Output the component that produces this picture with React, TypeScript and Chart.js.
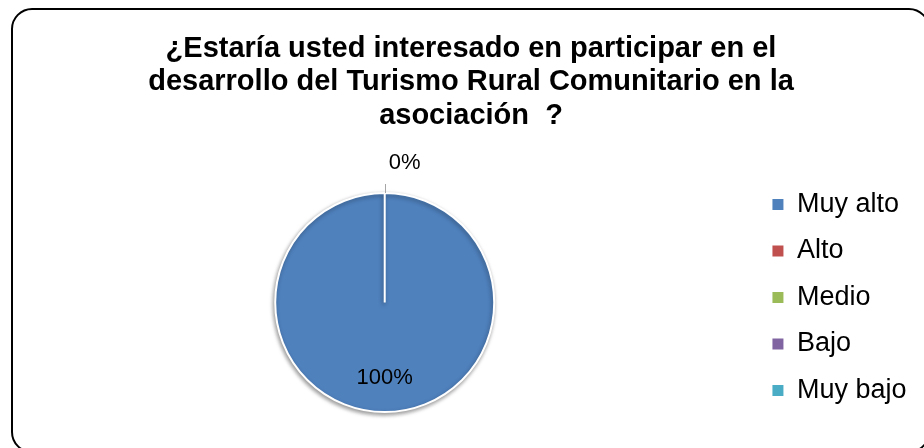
import { useEffect, useRef } from "react";
import { Chart, registerables, layouts } from "chart.js";

Chart.register(...registerables);

const TITLE_LINES = [
  "¿Estaría usted interesado en participar en el",
  "desarrollo del Turismo Rural Comunitario en la",
  "asociación  ?",
];
const CATEGORIES = ["Muy alto", "Alto", "Medio", "Bajo", "Muy bajo"];
const PERCENTS = [100, 0, 0, 0, 0];
const COLORS = ["#4F81BD", "#C0504D", "#9BBB59", "#8064A2", "#4BACC6"];

const FONT = "'Liberation Sans', Arial, Helvetica, sans-serif";

const shadowPlugin = {
  id: "pieShadow",
  beforeDatasetsDraw(chart: any) {
    const ctx = chart.ctx;
    ctx.save();
    ctx.shadowColor = "rgba(0,0,0,0.4)";
    ctx.shadowBlur = 4;
    ctx.shadowOffsetX = -1;
    ctx.shadowOffsetY = 2;
  },
  afterDatasetsDraw(chart: any) {
    chart.ctx.restore();
  },
};

const spacerPlugin = {
  id: "rightSpacer",
  beforeInit(chart: any) {
    const box: any = {
      position: "right",
      weight: 3000,
      fullSize: false,
      options: { stackWeight: 1 },
      width: 0,
      height: 0,
      left: 0,
      top: 0,
      right: 0,
      bottom: 0,
      isHorizontal: () => false,
      update(_w: number, h: number) {
        box.width = 9;
        box.height = h;
      },
      draw() {},
    };
    layouts.addBox(chart, box);
  },
};

const labelPlugin = {
  id: "sliceLabels",
  afterDatasetsDraw(chart: any) {
    const meta = chart.getDatasetMeta(0);
    const ctx = chart.ctx;
    ctx.save();
    ctx.font = `22px ${FONT}`;
    ctx.fillStyle = "#000";
    ctx.textBaseline = "middle";
    const drawn = new Set<string>();
    meta.data.forEach((arc: any, i: number) => {
      const { x, y, startAngle, endAngle, outerRadius } = arc.getProps(
        ["x", "y", "startAngle", "endAngle", "outerRadius"],
        true
      );
      const text = `${PERCENTS[i]}%`;
      const mid = (startAngle + endAngle) / 2;
      if (endAngle - startAngle > 0.5) {
        const r = outerRadius * 0.69;
        ctx.textAlign = "center";
        ctx.fillText(text, x + Math.cos(mid) * r, y + Math.sin(mid) * r);
      } else {
        const key = text + "_" + mid.toFixed(3);
        if (drawn.has(key)) return;
        drawn.add(key);
        const ex = x + Math.cos(mid) * outerRadius;
        const ey = y + Math.sin(mid) * outerRadius;
        const lx = x + Math.cos(mid) * (outerRadius + 9);
        const ly = y + Math.sin(mid) * (outerRadius + 9);
        ctx.strokeStyle = "#A6A6A6";
        ctx.lineWidth = 1;
        ctx.beginPath();
        ctx.moveTo(Math.round(ex) + 0.5, ey);
        ctx.lineTo(Math.round(lx) + 0.5, ly);
        ctx.stroke();
        ctx.textAlign = "left";
        ctx.fillText(text, x + Math.cos(mid) * outerRadius + 4, y + Math.sin(mid) * (outerRadius + 30));
      }
    });
    ctx.restore();
  },
};

export default function App() {
  const canvasRef = useRef<HTMLCanvasElement | null>(null);

  useEffect(() => {
    const canvas = canvasRef.current;
    if (!canvas) return;
    const baseLabels = (Chart as any).overrides.pie.plugins.legend.labels.generateLabels;
    const chart = new Chart(canvas, {
      type: "pie",
      data: {
        labels: CATEGORIES,
        datasets: [
          {
            data: PERCENTS,
            backgroundColor: COLORS,
            borderColor: "#FFFFFF",
            borderWidth: 2,
            radius: 109.5,
          },
        ],
      },
      options: {
        responsive: false,
        animation: false,
        devicePixelRatio: 1,
        layout: { padding: { left: 16.5, right: 4.5, top: 0, bottom: 13 } },
        plugins: {
          title: {
            display: true,
            text: TITLE_LINES,
            color: "#000",
            font: { family: FONT, size: 29, weight: "bold", lineHeight: 1.16 },
            padding: { top: 32, bottom: 37.1 },
          },
          legend: {
            position: "right",
            align: "center",
            fullSize: false,
            title: {
              display: true,
              text: "",
              padding: { top: -11, bottom: 0 },
              font: { size: 1, lineHeight: 1 },
            },
            labels: {
              boxWidth: 11,
              boxHeight: 11,
              padding: 19.5,
              color: "#000",
              font: { family: FONT, size: 27 },
              generateLabels: (c: any) =>
                baseLabels(c).map((l: any) => ({ ...l, lineWidth: 0, strokeStyle: l.fillStyle })),
            },
          },
          tooltip: { enabled: false },
        },
      } as any,
      plugins: [shadowPlugin, spacerPlugin, labelPlugin],
    });
    return () => chart.destroy();
  }, []);

  return (
    <div
      style={{
        position: "absolute",
        left: 0,
        top: 0,
        width: 924,
        height: 448,
        overflow: "hidden",
        background: "#fff",
      }}
    >
      <div
        style={{
          position: "absolute",
          left: 11,
          top: 8,
          width: 919,
          height: 445,
          border: "2px solid #000",
          borderRadius: 21,
          boxSizing: "border-box",
        }}
      />
      <canvas
        ref={canvasRef}
        width={930}
        height={448}
        style={{ position: "absolute", left: 0, top: 0, display: "block" }}
      />
    </div>
  );
}
